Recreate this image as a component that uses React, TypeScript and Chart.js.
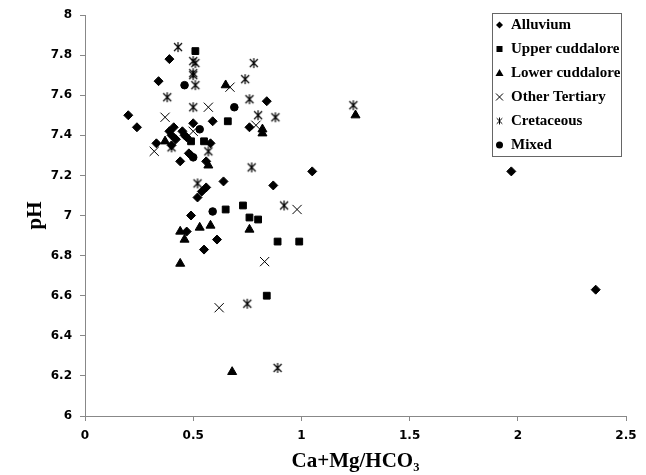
import React, { useEffect, useRef } from "react";
import { Chart, registerables } from "chart.js";
Chart.register(...registerables);

const xTicks = [0, 0.5, 1, 1.5, 2, 2.5];
const yTicks = [6, 6.2, 6.4, 6.6, 6.8, 7, 7.2, 7.4, 7.6, 7.8, 8];

const seriesNames = ["Alluvium", "Upper cuddalore", "Lower cuddalore", "Other Tertiary", "Cretaceous", "Mixed"];

const alluviumX = [0.39, 0.34, 0.84, 0.2, 0.24, 0.5, 0.59, 0.76, 0.41, 0.39, 0.4, 0.42, 0.45, 0.46, 0.47, 0.33, 0.4, 0.58, 0.48, 0.49, 0.44, 0.56, 0.56, 0.54, 0.52, 0.64, 0.87, 1.05, 1.97, 2.36, 0.49, 0.47, 0.61, 0.55];
const alluviumY = [7.78, 7.67, 7.57, 7.5, 7.44, 7.46, 7.47, 7.44, 7.44, 7.42, 7.4, 7.38, 7.42, 7.4, 7.39, 7.36, 7.35, 7.36, 7.31, 7.3, 7.27, 7.27, 7.14, 7.12, 7.09, 7.17, 7.15, 7.22, 7.22, 6.63, 7.0, 6.92, 6.88, 6.83];

const upperX = [0.51, 0.66, 0.49, 0.55, 0.65, 0.73, 0.76, 0.8, 0.89, 0.99, 0.84];
const upperY = [7.82, 7.47, 7.37, 7.37, 7.03, 7.05, 6.99, 6.98, 6.87, 6.87, 6.6];

const lowerX = [0.65, 0.82, 0.82, 0.37, 0.57, 0.44, 0.53, 0.58, 0.46, 0.76, 0.44, 0.68, 1.25];
const lowerY = [7.65, 7.43, 7.41, 7.37, 7.25, 6.92, 6.94, 6.95, 6.88, 6.93, 6.76, 6.22, 7.5];

const tertiaryX = [0.67, 0.57, 0.37, 0.79, 0.5, 0.32, 0.98, 0.83, 0.62];
const tertiaryY = [7.64, 7.54, 7.49, 7.45, 7.42, 7.32, 7.03, 6.77, 6.54];

const cretaceousX = [0.43, 0.5, 0.51, 0.78, 0.5, 0.5, 0.74, 0.51, 0.38, 0.76, 0.5, 0.8, 0.88, 0.4, 0.57, 0.77, 0.52, 0.92, 0.75, 0.89, 1.24];
const cretaceousY = [7.84, 7.77, 7.76, 7.76, 7.71, 7.7, 7.68, 7.65, 7.59, 7.58, 7.54, 7.5, 7.49, 7.34, 7.32, 7.24, 7.16, 7.05, 6.56, 6.24, 7.55];

const mixedX = [0.46, 0.69, 0.53, 0.59, 0.5];
const mixedY = [7.65, 7.54, 7.43, 7.02, 7.29];

const pts = (xs: number[], ys: number[]) => xs.map((x, i) => ({ x, y: ys[i] }));

function makeAsterisk(size: number, lw: number): HTMLCanvasElement {
  const c = document.createElement("canvas");
  c.width = size;
  c.height = size;
  const g = c.getContext("2d")!;
  g.strokeStyle = "#000";
  g.lineWidth = lw;
  const m = size / 2;
  const r = size / 2 - 1;
  const d = r * 0.8;
  g.beginPath();
  g.moveTo(m - d, m - d);
  g.lineTo(m + d, m + d);
  g.moveTo(m + d, m - d);
  g.lineTo(m - d, m + d);
  g.moveTo(m, m - r);
  g.lineTo(m, m + r);
  g.stroke();
  return c;
}

const legendPlugin = {
  id: "boxLegend",
  afterDraw(chart: any) {
    const ctx = chart.ctx as CanvasRenderingContext2D;
    const left = 492, top = 13, w = 129, h = 143;
    ctx.save();
    ctx.strokeStyle = "#666";
    ctx.lineWidth = 1;
    ctx.fillStyle = "#fff";
    ctx.fillRect(left, top, w, h);
    ctx.strokeRect(left + 0.5, top + 0.5, w, h);
    ctx.font = "bold 15px 'Liberation Serif'";
    ctx.textBaseline = "middle";
    const ast = makeAsterisk(9, 1);
    chart.data.datasets.forEach((ds: any, i: number) => {
      const cy = 25 + i * 24;
      const cx = 499.5;
      ctx.fillStyle = "#000";
      ctx.strokeStyle = "#000";
      ctx.beginPath();
      if (i === 0) {
        ctx.moveTo(cx, cy - 3.5); ctx.lineTo(cx + 3.5, cy); ctx.lineTo(cx, cy + 3.5); ctx.lineTo(cx - 3.5, cy); ctx.closePath(); ctx.fill();
      } else if (i === 1) {
        ctx.fillRect(cx - 3, cy - 3, 6, 6);
      } else if (i === 2) {
        ctx.moveTo(cx, cy - 4); ctx.lineTo(cx + 4, cy + 3); ctx.lineTo(cx - 4, cy + 3); ctx.closePath(); ctx.fill();
      } else if (i === 3) {
        ctx.lineWidth = 1;
        ctx.moveTo(cx - 3.5, cy - 3.5); ctx.lineTo(cx + 3.5, cy + 3.5);
        ctx.moveTo(cx + 3.5, cy - 3.5); ctx.lineTo(cx - 3.5, cy + 3.5); ctx.stroke();
      } else if (i === 4) {
        ctx.drawImage(ast, cx - 4.5, cy - 4.5);
      } else {
        ctx.arc(cx, cy, 3.5, 0, Math.PI * 2); ctx.fill();
      }
      ctx.fillStyle = "#000";
      ctx.fillText(ds.label, 511, cy + 0.5);
    });
    ctx.restore();
  },
};

export default function App() {
  const ref = useRef<HTMLCanvasElement>(null);
  useEffect(() => {
    document.body.style.margin = "0";
    const ast = makeAsterisk(12, 1.2);
    const tickFont = { family: "'DejaVu Sans'", weight: "bold" as const, size: 12 };
    const titleFont = { family: "'Liberation Serif'", weight: "bold" as const, size: 21 };
    const common = { borderColor: "#000", backgroundColor: "#000", borderWidth: 1, pointHoverRadius: 5, showLine: false };
    const chart = new Chart(ref.current!, {
      type: "scatter",
      data: {
        datasets: [
          { ...common, label: seriesNames[0], data: pts(alluviumX, alluviumY), pointStyle: "rectRot", pointRadius: 4.5 },
          { ...common, label: seriesNames[1], data: pts(upperX, upperY), pointStyle: "rect", pointRadius: 4.8 },
          { ...common, label: seriesNames[2], data: pts(lowerX, lowerY), pointStyle: "triangle", pointRadius: 5.2 },
          { ...common, label: seriesNames[3], data: pts(tertiaryX, tertiaryY), pointStyle: "crossRot", pointRadius: 6.5 },
          { ...common, label: seriesNames[4], data: pts(cretaceousX, cretaceousY), pointStyle: ast as any, pointRadius: 5 },
          { ...common, label: seriesNames[5], data: pts(mixedX, mixedY), pointStyle: "circle", pointRadius: 3.8 },
        ],
      },
      options: {
        animation: false,
        responsive: false,
        layout: { padding: { top: 15, right: 20, left: 0, bottom: 0 } },
        plugins: { legend: { display: false }, tooltip: { enabled: false } },
        scales: {
          x: {
            type: "linear",
            min: 0,
            max: 2.5,
            afterBuildTicks: (s: any) => { s.ticks = xTicks.map((v) => ({ value: v })); },
            afterFit: (s: any) => { s.height = 59; },
            grid: { drawOnChartArea: false, drawTicks: true, tickLength: 5, color: "#888" },
            border: { color: "#888", width: 1 },
            ticks: { font: tickFont, color: "#000", padding: 8, maxRotation: 0, callback: (v: any) => String(v) },
            title: { display: true, text: "Ca+Mg/HCO₃", font: titleFont, color: "#000", padding: { top: 0, bottom: 1 } },
          },
          y: {
            type: "linear",
            min: 6,
            max: 8,
            afterBuildTicks: (s: any) => { s.ticks = yTicks.map((v) => ({ value: v })); },
            afterFit: (s: any) => { s.width = 85; s.paddingTop = 0; s.paddingBottom = 0; },
            grid: { drawOnChartArea: false, drawTicks: true, tickLength: 5, color: "#888" },
            border: { color: "#888", width: 1 },
            ticks: { font: tickFont, color: "#000", padding: 8, callback: (v: any) => String(v) },
            title: { display: true, text: "pH", font: titleFont, color: "#000", padding: { top: 23, bottom: 0 } },
          },
        },
      },
      plugins: [legendPlugin],
    });
    return () => chart.destroy();
  }, []);
  return <canvas ref={ref} width={646} height={475} style={{ display: "block" }} />;
}
